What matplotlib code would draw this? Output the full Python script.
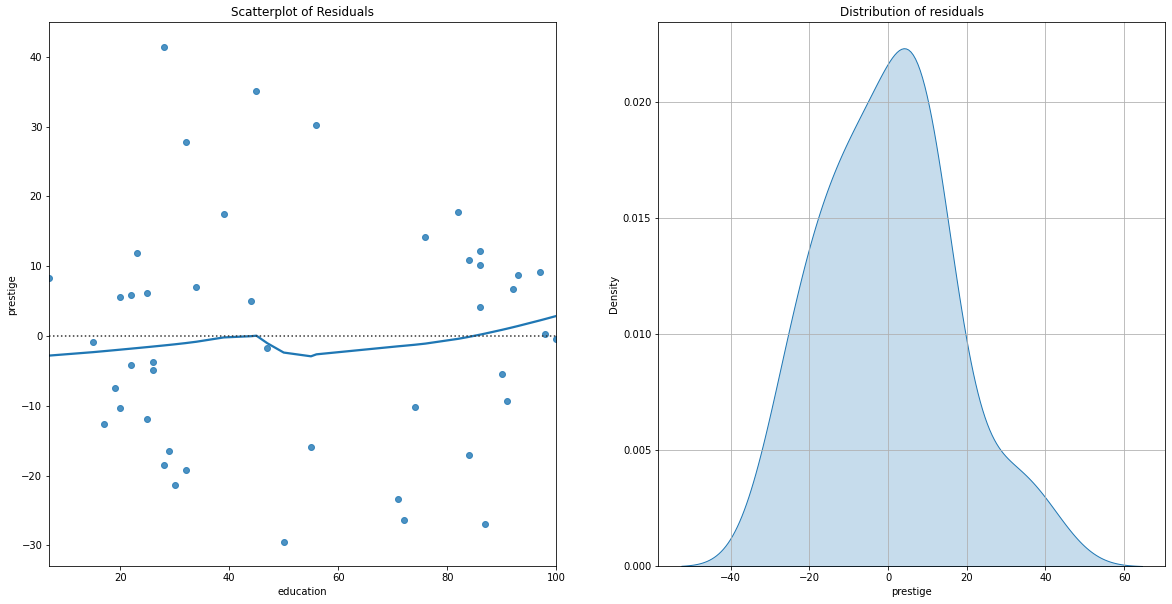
import numpy as np
import matplotlib
matplotlib.use("Agg")
import matplotlib.pyplot as plt
import seaborn as sns

# Residuals of prestige ~ education
education = [7, 28, 45, 32, 39, 23, 20, 22, 25, 34, 44,
             56, 82, 76, 86, 84, 86, 97, 93, 92, 86,
             15, 47, 22, 26, 26, 19, 20, 17, 25, 29, 28, 32, 30, 50,
             98, 100, 90, 91, 74, 55, 84, 71, 72, 87]
residual = [8.3, 41.4, 35.1, 27.8, 17.5, 11.9, 5.55, 5.85, 6.1, 7.0, 5.0,
            30.2, 17.7, 14.2, 12.15, 10.85, 10.15, 9.1, 8.7, 6.7, 4.1,
            -0.9, -1.75, -4.2, -3.75, -4.8, -7.5, -10.35, -12.65, -11.95, -16.5,
            -18.55, -19.25, -21.4, -29.45,
            0.25, -0.45, -5.5, -9.35, -10.1, -15.95, -17.1, -23.4, -26.3, -26.9]


def lowess(y, x, frac=2.0 / 3.0, it=3):
    """LOWESS smoother following the statsmodels algorithm (delta=0)."""
    order = np.argsort(x, kind="mergesort")
    x = np.asarray(x, float)[order]
    y = np.asarray(y, float)[order]
    n = len(x)
    k = int(frac * n + 1e-10)
    resid_w = np.ones(n)
    y_fit = np.zeros(n)
    for robiter in range(it + 1):
        y_fit = np.zeros(n)
        left, right = 0, k
        i = 0
        last_fit = -1
        while True:
            while right < n and x[i] > (x[left] + x[right]) / 2.0:
                left += 1
                right += 1
            radius = max(x[i] - x[left], x[right - 1] - x[i])
            xj = x[left:right]
            yj = y[left:right]
            d = np.abs(xj - x[i]) / radius
            w = np.clip(1 - d ** 3, 0, None) ** 3
            if robiter > 0:
                w = w * resid_w[left:right]
            sw = w.sum()
            if sw <= 0 or np.count_nonzero(w) == 1:
                y_fit[i] = y[i]
            else:
                w = w / sw
                mx = np.sum(w * xj)
                sq = np.sum(w * (xj - mx) ** 2)
                if sq > 1e-12:
                    p = w * (1 + (x[i] - mx) * (xj - mx) / sq)
                else:
                    p = w
                y_fit[i] = np.sum(p * yj)
            if last_fit < i - 1:
                for j in range(last_fit + 1, i):
                    a = (x[j] - x[last_fit]) / (x[i] - x[last_fit])
                    y_fit[j] = a * y_fit[i] + (1 - a) * y_fit[last_fit]
            last_fit = i
            kk = i + 1
            while kk < n and x[kk] <= x[i]:
                if x[kk] == x[last_fit]:
                    y_fit[kk] = y_fit[last_fit]
                    last_fit = kk
                kk += 1
            i = max(kk - 1, last_fit + 1) if kk < n else last_fit + 1
            if last_fit >= n - 1:
                break
        r = np.abs(y - y_fit)
        m = np.median(r)
        if m < 1e-12:
            break
        u = r / (6.0 * m)
        resid_w = np.where(u < 1, (1 - u ** 2) ** 2, 0.0)
    return x, y_fit


dpi = 72
fig = plt.figure(figsize=(1172 / dpi, 604 / dpi), dpi=dpi)
W, H = 1172.0, 604.0
ax1 = fig.add_axes([49.3 / W, (H - 566.3) / H, 507.0 / W, 544.0 / H])
ax2 = fig.add_axes([658.3 / W, (H - 566.3) / H, 506.7 / W, 544.0 / H])

# Left: residual scatter with lowess
ax1.scatter(education, residual, s=36, color="C0", alpha=0.8, linewidths=1.0)
gx, gy = lowess(residual, education)
ax1.plot(gx, gy, color="C0", lw=2.25)
ax1.axhline(0, ls=":", c=".2")
ax1.set_xlim(min(education), max(education))
ax1.set_title("Scatterplot of Residuals")
ax1.set_xlabel("education")
ax1.set_ylabel("prestige")

# Right: KDE of residuals
sns.kdeplot(x=np.array(residual), fill=True, ax=ax2, color="C0")
ax2.grid(True)
ax2.set_title("Distribution of residuals")
ax2.set_xlabel("prestige")
ax2.set_ylabel("Density")

fig.savefig("out.png", dpi=dpi)
